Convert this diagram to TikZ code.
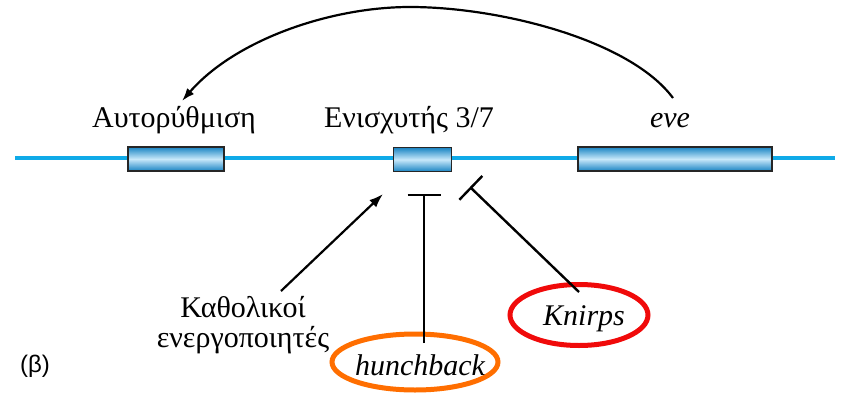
\documentclass[tikz,border=0pt]{standalone}
\usepackage{fontspec}
\setmainfont{Liberation Serif}
\newfontfamily\labelsans{Liberation Sans}
\usepackage{tikz}
\usetikzlibrary{arrows.meta,calc,positioning,shapes.geometric}
\definecolor{dnablue}{RGB}{15,170,232}
\definecolor{exondark}{RGB}{25,132,195}
\definecolor{exonlight}{RGB}{200,232,250}
\definecolor{ringorange}{RGB}{255,110,0}
\definecolor{ringred}{RGB}{240,10,10}
\tikzset{
  exon/.style={draw=black!85, line width=1.6pt, top color=exondark, bottom color=exondark, middle color=exonlight, minimum height=24pt, inner sep=0pt},
  genelabel/.style={font=\fontsize{30}{30}\selectfont, inner sep=0pt, anchor=base},
  repress/.style={line width=2.4pt, -{Bar[width=33pt, line width=2.4pt]}},
  ring/.style={ellipse, line width=5pt, inner sep=0pt}
}
\begin{document}
\begin{tikzpicture}[x=1pt,y=-1pt]
                \useasboundingbox (0,0) rectangle (844,394);
                %DNA
                \coordinate (dnaL) at (15,158);
                \coordinate (dnaR) at (835,158);
                \draw[dnablue, line width=3.4pt] (dnaL) -- (dnaR);
                %Boxes
                \node[exon, minimum width=96pt] (auto) at (176,159) {};
                \node[exon, minimum width=58pt] (enh) at (422.5,159.5) {};
                \node[exon, minimum width=194pt] (eve) at (675,159) {};
                %Labels
                \node[genelabel] (autolbl) at (174,127) {Αυτορύθμιση};
                \node[genelabel] (enhlbl) at (409,127) {Ενισχυτής 3/7};
                \node[genelabel] (evelbl) at (670,127) {\itshape eve};
                %Feedback arc
                \coordinate (arcS) at (673,98);
                \coordinate (arcTop) at (410,7);
                \coordinate (arcE) at (182,101);
                \draw[line width=2.2pt, -{Latex[length=13pt,width=9pt]}] (arcS) .. controls (630,40) and (500,7) .. (arcTop)
                    .. controls (330,7) and (235,40) .. (arcE);
                %Activators
                \node[genelabel, align=center] (act) at (243,347) {Καθολικοί\\ενεργοποιητές};
                \coordinate (actS) at (281,291);
                \coordinate (actE) at (383,194);
                \draw[line width=2.2pt, -{Latex[length=14pt,width=10pt]}] (actS) -- (actE);
                %hunchback
                \node[ring, draw=ringorange, minimum width=166pt, minimum height=56pt] (hbring) at (415,362) {};
                \node[genelabel] (hb) at (420,375) {\itshape hunchback};
                \coordinate (hbS) at (424,343);
                \coordinate (hbE) at (424,194);
                \draw[repress] (hbS) -- (hbE);
                %Knirps
                \node[ring, draw=ringred, minimum width=138pt, minimum height=61pt] (knring) at (579,315) {};
                \node[genelabel] (kn) at (584,325) {\itshape Knirps};
                \coordinate (knS) at (579,292);
                \coordinate (knE) at (470,187);
                \draw[repress] (knS) -- (knE);
                %Panel
                \node[font=\labelsans\fontsize{24}{24}\selectfont, inner sep=0pt, anchor=base] (panel) at (35,372) {(β)};
            \end{tikzpicture}
\end{document}
